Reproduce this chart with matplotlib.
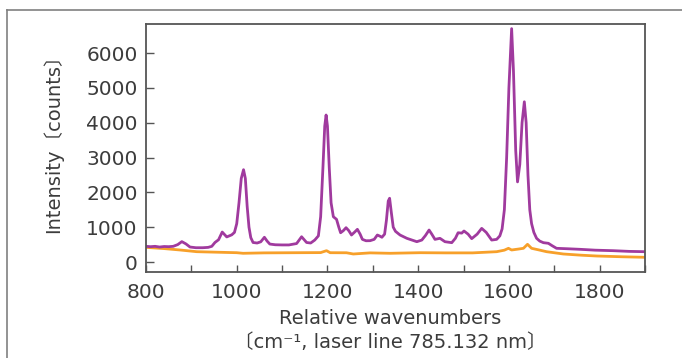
import matplotlib
matplotlib.use("Agg")
import matplotlib.pyplot as plt
from matplotlib.lines import Line2D
from matplotlib.ticker import MultipleLocator

plt.rcParams['font.family'] = ['DejaVu Sans', 'Noto Sans CJK JP']

# spektar uzorka (ljubicasto)
wn_sample = [800, 810, 820, 830, 840, 850, 860, 870, 879, 888, 897, 910, 925, 937, 945, 952, 960, 968,
             978, 989, 995, 1000, 1005, 1010, 1015, 1019, 1023, 1027, 1031, 1036, 1045, 1053, 1061,
             1067, 1073, 1085, 1100, 1115, 1132, 1143, 1154, 1163, 1172, 1180, 1185, 1190, 1194,
             1197, 1200, 1204, 1208, 1213, 1220, 1225, 1229, 1235, 1241, 1247, 1253, 1260, 1266,
             1272, 1277, 1285, 1294, 1303, 1310, 1316, 1320, 1326, 1330, 1334, 1337, 1341, 1345,
             1350, 1360, 1375, 1397, 1408, 1416, 1424, 1430, 1437, 1448, 1459, 1474, 1482, 1488,
             1496, 1501, 1510, 1518, 1530, 1540, 1550, 1562, 1573, 1580, 1585, 1590, 1595, 1600,
             1606, 1610, 1615, 1619, 1624, 1629, 1634, 1638, 1642, 1646, 1650, 1655, 1661, 1668,
             1676, 1687, 1695, 1705, 1730, 1757, 1790, 1830, 1865, 1900]
int_sample = [450, 440, 450, 430, 445, 440, 450, 500, 585, 520, 430, 410, 410, 420, 450, 560, 640, 860,
              720, 780, 850, 1100, 1700, 2400, 2650, 2400, 1600, 1000, 700, 560, 545, 580, 710,
              600, 515, 495, 490, 490, 530, 725, 560, 545, 630, 750, 1300, 2700, 3900,
              4220, 3900, 2700, 1700, 1300, 1225, 1000, 840, 900, 985, 900, 775, 860, 938,
              800, 650, 610, 612, 650, 775, 740, 710, 800, 1200, 1750, 1830, 1400, 1000,
              880, 775, 680, 583, 630, 760, 918, 800, 650, 680, 583, 555, 680, 840,
              830, 890, 800, 670, 800, 966, 850, 630, 650, 750, 950, 1500, 3000, 5000,
              6700, 5500, 3200, 2300, 2800, 4000, 4600, 4000, 2500, 1500, 1100, 850, 680, 600,
              555, 537, 470, 393, 380, 364, 340, 325, 305, 296]

# pozadina (narancasto)
wn_bg = [800, 840, 875, 912, 960, 1000, 1014, 1060, 1132, 1185, 1192, 1198, 1206, 1242, 1257, 1294,
         1338, 1404, 1460, 1520, 1573, 1590, 1599, 1606, 1620, 1632, 1641, 1650, 1665, 1683, 1720,
         1760, 1794, 1850, 1900]
int_bg = [420, 385, 345, 296, 280, 267, 250, 262, 267, 270, 300, 325, 267, 265, 230, 262,
          250, 267, 262, 262, 296, 340, 393, 345, 370, 393, 508, 393, 350, 296, 230,
          195, 172, 150, 135]

purple = '#a03a9e'
orange = '#f7a02a'
txt = '#3c3c3c'

fig = plt.figure(figsize=(6.82, 3.58), dpi=100)
ax = fig.add_axes([146/682, 1 - 272/358, (645 - 146)/682, (272 - 24)/358])

ax.plot(wn_bg, int_bg, color=orange, lw=2.0, solid_joinstyle='round')
ax.plot(wn_sample, int_sample, color=purple, lw=2.0, solid_joinstyle='round')

ax.set_xlim(800, 1900)
ax.set_ylim(-287, 6833)
ax.xaxis.set_major_locator(MultipleLocator(200))
ax.xaxis.set_minor_locator(MultipleLocator(100))
ax.yaxis.set_major_locator(MultipleLocator(1000))
ax.tick_params(axis='x', which='both', direction='in', length=5, width=1, color='#555555',
               labelsize=14.5, labelcolor=txt, pad=8)
ax.tick_params(axis='y', which='major', direction='in', length=6, width=1, color='#555555',
               labelsize=14.5, labelcolor=txt, pad=6)
for s in ax.spines.values():
    s.set_color('#555555')
    s.set_linewidth(1.3)

fig.text(390/682, 1 - 318/358, 'Relative wavenumbers', ha='center', va='center',
         fontsize=14, color=txt)
fig.text(390/682, 1 - 343/358, '〔cm⁻¹, laser line 785.132 nm〕', ha='center', va='center',
         fontsize=14, color=txt)
fig.text(53/682, 1 - 139/358, 'Intensity〔counts〕', ha='center', va='center', rotation=90,
         fontsize=14, color=txt)

# okvir oko slike
fig.add_artist(Line2D([7/682, 1], [1 - 10/358, 1 - 10/358], transform=fig.transFigure,
                      color='#808080', lw=1.2))
fig.add_artist(Line2D([7/682, 7/682], [0, 1 - 10/358], transform=fig.transFigure,
                      color='#808080', lw=1.2))

fig.savefig('out.png', dpi=100)
